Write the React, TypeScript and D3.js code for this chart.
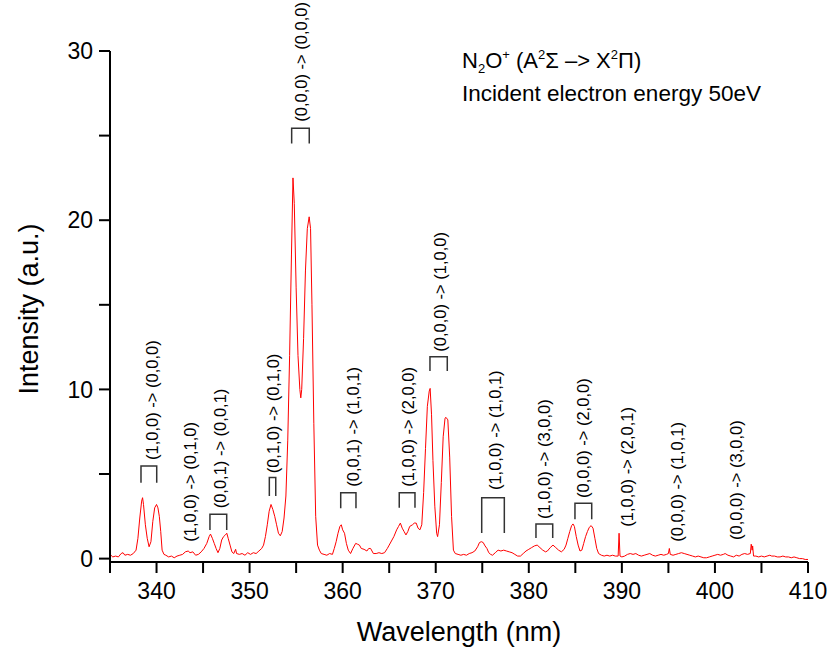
import React from 'react';
import * as d3 from 'd3';

// Spectrum (wavelength in nm, intensity in a.u.)
const wavelengths = [
  335.0, 335.3, 335.6, 335.9, 336.2, 336.4, 336.6, 336.9, 337.2, 337.5, 337.8, 338.0, 338.2, 338.4, 338.5, 338.6, 338.8, 339.0, 339.2, 339.4,
  339.6, 339.8, 340.0, 340.15, 340.3, 340.45, 340.6, 340.8, 341.0, 341.3, 341.6, 341.9, 342.2, 342.5, 342.8, 343.1, 343.4, 343.6, 343.9, 344.2,
  344.5, 344.8, 345.1, 345.4, 345.65, 345.8, 346.0, 346.2, 346.4, 346.6, 346.8, 347.0, 347.2, 347.4, 347.55, 347.7, 347.9, 348.1, 348.3, 348.5,
  348.6, 348.9, 349.2, 349.5, 349.8, 350.1, 350.4, 350.7, 351.0, 351.3, 351.5, 351.7, 351.9, 352.1, 352.3, 352.5, 352.7, 352.9, 353.1, 353.3,
  353.5, 353.7, 353.9, 354.1, 354.3, 354.5, 354.66, 354.8, 355.0, 355.2, 355.4, 355.5, 355.6, 355.8, 356.0, 356.2, 356.4, 356.55, 356.7, 356.9,
  357.1, 357.3, 357.5, 357.7, 358.0, 358.3, 358.6, 358.9, 359.1, 359.3, 359.5, 359.7, 359.85, 360.0, 360.2, 360.4, 360.6, 360.85, 361.1, 361.4,
  361.6, 361.8, 362.0, 362.3, 362.6, 362.8, 363.0, 363.3, 363.6, 363.9, 364.2, 364.5, 364.8, 365.0, 365.3, 365.5, 365.8, 366.0, 366.2, 366.4,
  366.6, 366.8, 367.0, 367.2, 367.5, 367.7, 367.9, 368.1, 368.3, 368.5, 368.7, 368.9, 369.1, 369.3, 369.4, 369.55, 369.7, 369.9, 370.1, 370.2,
  370.4, 370.6, 370.8, 371.0, 371.1, 371.3, 371.5, 371.7, 371.9, 372.1, 372.4, 372.7, 373.0, 373.3, 373.6, 373.9, 374.2, 374.5, 374.7, 374.9,
  375.1, 375.3, 375.5, 375.7, 375.9, 376.1, 376.4, 376.7, 377.0, 377.3, 377.6, 377.9, 378.2, 378.5, 378.8, 379.1, 379.4, 379.7, 380.0, 380.3,
  380.6, 380.9, 381.2, 381.5, 381.8, 382.0, 382.3, 382.6, 382.9, 383.2, 383.5, 383.8, 384.0, 384.2, 384.4, 384.6, 384.75, 384.9, 385.1, 385.3,
  385.5, 385.7, 385.9, 386.1, 386.3, 386.5, 386.7, 386.9, 387.1, 387.3, 387.5, 387.8, 388.1, 388.4, 388.7, 389.0, 389.3, 389.6, 389.7, 389.8,
  390.0, 390.3, 390.6, 390.9, 391.2, 391.5, 391.8, 392.1, 392.4, 392.7, 393.0, 393.3, 393.6, 393.9, 394.2, 394.5, 394.8, 395.0, 395.1, 395.2,
  395.5, 395.8, 396.1, 396.4, 396.7, 397.0, 397.3, 397.6, 397.9, 398.2, 398.5, 398.8, 399.1, 399.4, 399.7, 400.0, 400.3, 400.6, 400.9, 401.1,
  401.4, 401.7, 402.0, 402.3, 402.6, 402.9, 403.2, 403.5, 403.8, 403.9, 404.0, 404.05, 404.15, 404.4, 404.7, 405.0, 405.3, 405.6, 405.9, 406.1,
  406.4, 406.7, 407.0, 407.3, 407.6, 407.9, 408.2, 408.5, 408.8, 409.1, 409.4, 409.7, 410.0,
];
const intensities = [
  0.25, 0.1, 0.15, 0.1, 0.3, 0.35, 0.2, 0.25, 0.2, 0.3, 0.5, 1.2, 2.4, 3.4, 3.6, 3.2, 2.0, 1.2, 0.7, 1.0,
  2.2, 3.0, 3.2, 3.0, 2.5, 1.6, 0.5, 0.25, 0.2, 0.1, 0.15, 0.05, 0.15, 0.2, 0.25, 0.4, 0.45, 0.35, 0.4, 0.2,
  0.25, 0.4, 0.6, 0.9, 1.3, 1.45, 1.2, 0.9, 0.6, 0.35, 0.6, 1.1, 1.3, 1.4, 1.5, 1.2, 0.8, 0.4, 0.3, 0.55,
  0.3, 0.25, 0.3, 0.2, 0.35, 0.25, 0.35, 0.3, 0.45, 0.6, 0.8, 1.3, 2.0, 2.8, 3.2, 2.9, 2.5, 2.0, 1.5, 1.35,
  1.6, 2.4, 3.7, 7.0, 12.0, 18.0, 22.5, 21.0, 16.0, 12.0, 10.0, 9.5, 10.0, 13.0, 17.0, 19.5, 20.2, 19.5, 15.0, 8.0,
  2.5, 0.8, 0.5, 0.3, 0.25, 0.2, 0.3, 0.25, 0.6, 1.0, 1.5, 1.9, 2.0, 1.7, 1.5, 0.9, 0.5, 0.3, 0.6, 0.9,
  0.85, 0.8, 0.6, 0.55, 0.45, 0.6, 0.6, 0.3, 0.3, 0.35, 0.3, 0.35, 0.6, 0.8, 1.1, 1.3, 1.7, 1.9, 2.1, 1.8,
  1.6, 1.4, 1.6, 1.9, 2.0, 2.1, 2.1, 1.8, 1.7, 2.0, 3.9, 6.5, 9.0, 9.9, 10.06, 8.5, 5.8, 3.1, 1.5, 1.3,
  2.0, 4.5, 7.2, 8.3, 8.35, 8.2, 6.0, 2.5, 0.5, 0.3, 0.25, 0.2, 0.25, 0.2, 0.3, 0.35, 0.45, 0.7, 0.95, 1.0,
  0.95, 0.75, 0.6, 0.35, 0.25, 0.2, 0.35, 0.5, 0.45, 0.5, 0.45, 0.4, 0.35, 0.25, 0.15, 0.15, 0.3, 0.45, 0.55, 0.65,
  0.75, 0.8, 0.65, 0.5, 0.4, 0.45, 0.65, 0.8, 0.65, 0.5, 0.4, 0.55, 0.8, 1.2, 1.6, 1.95, 2.05, 1.9, 1.3, 0.8,
  0.45, 0.5, 0.9, 1.3, 1.6, 1.85, 1.95, 1.8, 1.2, 0.6, 0.3, 0.2, 0.15, 0.2, 0.15, 0.2, 0.15, 0.15, 1.5, 0.15,
  0.1, 0.15, 0.25, 0.3, 0.25, 0.3, 0.2, 0.15, 0.2, 0.25, 0.3, 0.2, 0.15, 0.2, 0.25, 0.2, 0.25, 0.3, 0.6, 0.25,
  0.2, 0.25, 0.3, 0.35, 0.3, 0.25, 0.2, 0.15, 0.1, 0.15, 0.1, 0.05, 0.05, 0.1, 0.15, 0.2, 0.25, 0.2, 0.25, 0.3,
  0.2, 0.15, 0.1, 0.2, 0.15, 0.25, 0.3, 0.25, 0.3, 0.85, 0.5, 0.75, 0.15, 0.15, 0.1, 0.15, 0.1, 0.15, 0.2, 0.15,
  0.15, 0.1, 0.1, 0.15, 0.1, 0.1, 0.05, 0.1, 0.05, 0.0, 0.0, -0.05, -0.05,
];

// Axes
const xMajorTicks = [340, 350, 360, 370, 380, 390, 400, 410];
const xAllTicks = [335, 340, 345, 350, 355, 360, 365, 370, 375, 380, 385, 390, 395, 400, 405, 410];
const yMajorTicks = [0, 10, 20, 30];
const yAllTicks = [0, 5, 10, 15, 20, 25, 30];

// Transition labels (rotated), anchored at wavelength / intensity of the text start
const labelTexts = [
  '(1,0,0) -> (0,0,0)', '(1,0,0) -> (0,1,0)', '(0,0,1) -> (0,0,1)', '(0,1,0) -> (0,1,0)',
  '(0,0,0) -> (0,0,0)', '(0,0,1) -> (1,0,1)', '(1,0,0) -> (2,0,0)', '(0,0,0) -> (1,0,0)',
  '(1,0,0) -> (1,0,1)', '(1,0,0) -> (3,0,0)', '(0,0,0) -> (2,0,0)', '(1,0,0) -> (2,0,1)',
  '(0,0,0) -> (1,0,1)', '(0,0,0) -> (3,0,0)',
];
const labelNm = [339.56, 343.6, 346.8, 352.5, 355.58, 361.1, 367.0, 370.46, 376.37, 381.6, 385.82, 390.55, 395.92, 402.26];
const labelStart = [5.83, 1.0, 2.97, 5.04, 25.82, 4.25, 4.25, 12.23, 4.05, 2.34, 3.58, 1.89, 1.0, 1.1];

// Brackets: left / right wavelength, top / bottom intensity
const bracketLeft = [338.33, 345.74, 352.12, 354.52, 359.79, 366.08, 369.38, 374.94, 380.77, 384.96];
const bracketRight = [340.02, 347.54, 352.81, 356.41, 361.43, 367.77, 371.24, 377.37, 382.57, 386.76];
const bracketTop = [5.47, 2.62, 4.8, 25.43, 3.9, 3.9, 11.93, 3.6, 2.04, 3.27];
const bracketBottom = [4.49, 1.69, 3.7, 24.54, 2.97, 3.0, 11.09, 1.51, 1.22, 2.32];

const W = 828;
const H = 653;
const FONT = '"Liberation Sans", Arial, Helvetica, sans-serif';

export default function App() {
  const x = d3.scaleLinear().domain([335, 410]).range([110, 808]);
  const y = d3.scaleLinear().domain([-0.2, 30]).range([562, 51]);

  const pts: [number, number][] = wavelengths.map((w, i) => [w, intensities[i]]);
  const line = d3
    .line<[number, number]>()
    .x((d) => x(d[0]))
    .y((d) => y(d[1]));

  return (
    <div style={{ position: 'fixed', left: 0, top: 0 }}>
      <svg width={W} height={H} viewBox={`0 0 ${W} ${H}`} style={{ display: 'block', background: '#fff' }}>
        <rect x={0} y={0} width={W} height={H} fill="#fff" />
        {/* spectrum */}
        <path d={line(pts) || ''} fill="none" stroke="#ff0000" strokeWidth={1} strokeLinejoin="round" />

        {/* brackets */}
        {bracketLeft.map((l, i) => (
          <path
            key={'b' + i}
            d={`M${x(l)},${y(bracketBottom[i])}V${y(bracketTop[i])}H${x(bracketRight[i])}V${y(bracketBottom[i])}`}
            fill="none"
            stroke="#333"
            strokeWidth={1.5}
          />
        ))}

        {/* rotated labels */}
        {labelTexts.map((t, i) => (
          <text
            key={'l' + i}
            transform={`translate(${x(labelNm[i])},${y(labelStart[i])}) rotate(-90)`}
            dy="0.36em"
            fontFamily={FONT}
            fontSize={16.5}
            fill="#000"
          >
            {t}
          </text>
        ))}

        {/* axes */}
        <g stroke="#000" strokeWidth={2} fill="none">
          <line x1={110} y1={51} x2={110} y2={563} />
          <line x1={109} y1={562} x2={808} y2={562} />
          {yAllTicks.map((t) => (
            <line key={'yt' + t} x1={99} x2={110} y1={y(t)} y2={y(t)} />
          ))}
          {xAllTicks.map((t) => (
            <line key={'xt' + t} x1={x(t)} x2={x(t)} y1={562} y2={573} />
          ))}
        </g>
        {yMajorTicks.map((t) => (
          <text key={'yl' + t} x={93} y={y(t)} dy="0.36em" textAnchor="end" fontFamily={FONT} fontSize={23} fill="#000">
            {t}
          </text>
        ))}
        {xMajorTicks.map((t) => (
          <text key={'xl' + t} x={x(t)} y={599} textAnchor="middle" fontFamily={FONT} fontSize={23} fill="#000">
            {t}
          </text>
        ))}

        {/* axis titles */}
        <text x={459} y={641} textAnchor="middle" fontFamily={FONT} fontSize={27} fill="#000">
          Wavelength (nm)
        </text>
        <text
          transform={`translate(38,309) rotate(-90)`}
          textAnchor="middle"
          fontFamily={FONT}
          fontSize={27}
          fill="#000"
        >
          Intensity (a.u.)
        </text>

        {/* title */}
        <text x={462} y={68} fontFamily={FONT} fontSize={22} fill="#000">
          N<tspan dy={5} fontSize={13}>2</tspan>
          <tspan dy={-5}>O</tspan>
          <tspan dy={-9} fontSize={13}>+</tspan>
          <tspan dy={9}> (A</tspan>
          <tspan dy={-9} fontSize={13}>2</tspan>
          <tspan dy={9}>Σ –&gt; X</tspan>
          <tspan dy={-9} fontSize={13}>2</tspan>
          <tspan dy={9}>Π)</tspan>
        </text>
        <text x={462} y={101} fontFamily={FONT} fontSize={22.5} fill="#000">
          Incident electron energy 50eV
        </text>
      </svg>
    </div>
  );
}
